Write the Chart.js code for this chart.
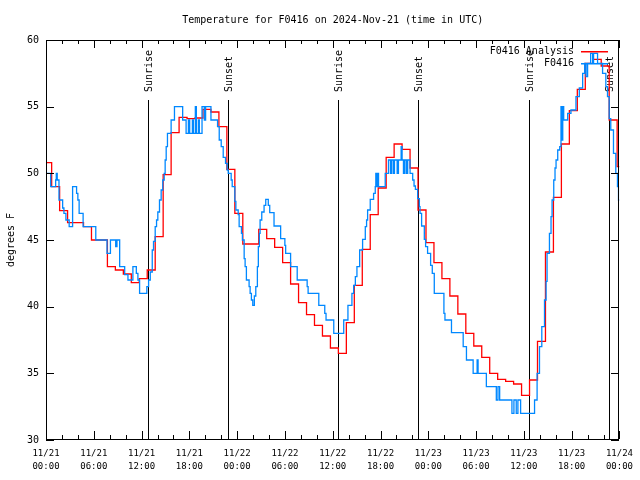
<!DOCTYPE html>
<html>
<head>
<meta charset="utf-8">
<script src="https://cdn.jsdelivr.net/npm/chart.js@4.4.1/dist/chart.umd.min.js"></script>
<style>
  html, body { margin: 0; padding: 0; background: #fff; }
</style>
</head>
<body>
<canvas id="render" width="640" height="480"></canvas>
<script>
// hours since 2024-11-21 00:00 UTC
const tickDates = ['11/21', '11/21', '11/21', '11/21', '11/22', '11/22', '11/22', '11/22', '11/23', '11/23', '11/23', '11/23', '11/24'];
const tickTimes = ['00:00', '06:00', '12:00', '18:00', '00:00', '06:00', '12:00', '18:00', '00:00', '06:00', '12:00', '18:00', '00:00'];

const sunHours = [12.79, 22.79, 36.66, 46.69, 60.66, 70.66];
const sunLabels = ['Sunrise', 'Sunset', 'Sunrise', 'Sunset', 'Sunrise', 'Sunset'];

// hourly analysis, each value starts at :43 past the hour (first one at 00:00)
const analysisTemps = [
  50.8, 49.0, 47.2, 46.3, 46.3, 46.0, 45.0, 45.0, 43.0, 42.75, 42.45, 41.8,
  42.1, 42.75, 45.25, 49.9, 53.05, 54.2, 54.1, 54.15, 54.8, 54.6, 53.5, 50.3,
  47.0, 44.7, 44.7, 45.8, 45.1, 44.45, 43.3, 41.7, 40.3, 39.4, 38.6, 37.8,
  36.9, 36.5, 38.8, 41.6, 44.3, 46.9, 48.9, 51.2, 52.2, 51.8, 50.4, 47.25,
  44.8, 43.3, 42.1, 40.8, 39.45, 38.0, 37.05, 36.2, 35.0, 34.55, 34.4, 34.2,
  33.35, 34.5, 37.4, 44.1, 48.2, 52.2, 54.7, 56.3, 58.25, 58.55, 58.05, 54.0,
  50.5
];
const analysisOffset = -0.29;

// observations, listed where the value changes
const obsHours = [
  0, 0.59, 1.21, 1.29, 1.41, 1.63, 2.09, 2.25, 2.5, 2.91, 3.34, 3.84, 4.0, 4.16, 4.66,
  6.25, 7.66, 8.09, 8.75, 8.91, 9.25, 9.88, 10.29, 10.91, 11.34, 11.54, 11.75,
  12.66, 12.88, 13.09, 13.34, 13.5, 13.71, 13.88, 14.04, 14.25, 14.46, 14.66, 14.84,
  14.96, 15.09, 15.25, 15.71, 16.13, 17.16, 17.59, 17.88, 18.04, 18.38, 18.5, 18.75,
  18.88, 19.13, 19.25, 19.59, 19.88, 20.04, 20.71, 21.54, 21.75, 22.0, 22.25, 22.54,
  22.75, 22.88, 23.25, 23.38, 23.71, 23.84, 24.13, 24.25, 24.54, 24.66, 24.88, 25.0,
  25.16, 25.5, 25.63, 25.79, 25.96, 26.16, 26.34, 26.54, 26.66, 26.79, 26.88, 27.09,
  27.38, 27.59, 27.91, 28.09, 28.63, 29.46, 29.99, 30.09, 30.71, 31.54, 32.79, 32.91,
  34.25, 35.0, 35.16, 36.13, 37.38, 37.91, 38.41, 38.63, 38.84, 39.04, 39.38, 39.75,
  40.09, 40.25, 40.38, 40.71, 41.13, 41.34, 41.41, 41.54, 41.63, 41.75, 42.59, 43.0,
  43.25, 43.41, 43.63, 43.75, 44.09, 44.25, 44.59, 44.71, 44.88, 45.04, 45.25, 45.41,
  45.71, 46.04, 46.21, 46.38, 46.66, 46.88, 46.96, 47.16, 47.5, 47.66, 47.91, 48.29,
  48.5, 48.75, 49.96, 50.09, 50.91, 52.38, 52.79, 53.63, 54.13, 54.25, 55.29, 56.54,
  56.75, 56.96, 58.5, 58.75, 59.04, 59.25, 59.59, 61.34, 61.66, 61.96, 62.25, 62.59,
  62.79, 62.91, 63.21, 63.41, 63.54, 63.75, 63.91, 64.04, 64.25, 64.5, 64.66, 64.75,
  64.88, 65.0, 65.5, 65.91, 66.54, 66.96, 67.38, 67.63, 67.81, 68.0, 68.38, 68.63,
  68.75, 69.25, 69.88, 70.29, 70.5, 70.71, 70.91, 71.25, 71.54, 71.75, 71.88, 72
];
const obsTemps = [
  50.0, 49.0, 49.5, 50.0, 49.5, 48.0, 47.4, 47.0, 46.5, 46.0, 49.0, 48.5, 48.0, 47.0, 46.0,
  45.0, 44.0, 45.0, 44.5, 45.0, 43.0, 42.4, 42.0, 43.0, 42.5, 42.0, 41.0,
  41.5, 42.0, 42.6, 44.25, 44.9, 46.0, 46.5, 47.1, 48.0, 48.75, 49.5, 50.0,
  51.0, 52.0, 53.0, 54.0, 55.0, 54.0, 53.0, 54.0, 53.0, 54.0, 53.0, 55.0,
  53.0, 54.0, 53.0, 55.0, 54.0, 55.0, 54.0, 53.5, 52.5, 52.0, 51.2, 50.75,
  50.25, 50.0, 49.5, 49.0, 47.9, 47.25, 46.9, 46.0, 45.5, 45.0, 43.6, 43.0,
  42.0, 41.5, 41.0, 40.5, 40.1, 40.8, 41.5, 43.0, 44.5, 45.5, 46.5, 47.1,
  47.6, 48.05, 47.6, 47.05, 46.05, 45.1, 44.6, 44.0, 43.0, 42.0, 41.5, 41.0,
  40.1, 39.5, 39.0, 38.0, 39.0, 40.1, 41.0, 41.6, 42.25, 43.0, 44.25, 45.05,
  46.0, 46.5, 47.25, 48.05, 48.5, 49.0, 50.0, 49.0, 50.0, 49.0, 50.0, 51.0,
  50.0, 51.0, 50.0, 51.0, 50.0, 51.0, 52.0, 51.0, 50.0, 51.0, 50.0, 51.0,
  50.0, 49.5, 49.05, 48.8, 48.1, 47.5, 47.0, 46.05, 45.05, 44.5, 44.0, 43.1,
  42.5, 41.0, 39.5, 39.0, 38.05, 37.0, 36.0, 35.0, 36.0, 35.0, 34.0, 33.0,
  34.0, 33.0, 32.0, 33.0, 32.0, 33.0, 32.0, 33.0, 35.0, 37.0, 38.5, 40.5,
  41.9, 44.0, 45.5, 46.75, 48.0, 49.5, 50.4, 51.0, 51.75, 52.0, 55.0, 52.5,
  55.0, 54.0, 54.5, 54.75, 55.75, 56.4, 57.5, 58.25, 57.25, 58.25, 59.0, 58.25,
  59.0, 58.25, 57.5, 56.5, 55.75, 54.1, 53.25, 51.5, 50.0, 49.0, 48.0, 48.0
];

const MONO = "'DejaVu Sans Mono', 'Liberation Mono', monospace";

const analysisPoints = analysisTemps.map((t, i) => ({x: i === 0 ? 0 : i + analysisOffset, y: t}));
analysisPoints.push({x: 72, y: analysisTemps[analysisTemps.length - 1]});
const obsPoints = obsHours.map((h, i) => ({x: h, y: obsTemps[i]}));

const gnuplotLook = {
  id: 'gnuplotLook',
  beforeDatasetsDraw(chart) {
    const ctx = chart.ctx;
    const area = chart.chartArea;
    const xs = chart.scales.x;
    const h = area.bottom - area.top;
    ctx.save();
    ctx.fillStyle = '#000';
    ctx.font = '10px ' + MONO;
    sunHours.forEach((hr, i) => {
      const x = Math.round(xs.getPixelForValue(hr));
      const top = Math.round(area.bottom - 0.85 * h);
      ctx.fillRect(x, top, 1, area.bottom - top);
      ctx.save();
      ctx.translate(x + 1.5, area.bottom - 0.87 * h);
      ctx.rotate(-Math.PI / 2);
      ctx.textAlign = 'left';
      ctx.textBaseline = 'middle';
      ctx.fillText(sunLabels[i], 0, 0);
      ctx.restore();
    });
    ctx.restore();
  },
  afterDraw(chart) {
    const ctx = chart.ctx;
    const area = chart.chartArea;
    const xs = chart.scales.x;
    const ys = chart.scales.y;
    ctx.save();
    ctx.fillStyle = '#000';
    const L = Math.round(area.left), R = Math.round(area.right) - 1;
    const T = Math.round(area.top), B = Math.round(area.bottom) - 1;
    // frame
    ctx.fillRect(L, T, R - L + 1, 1);
    ctx.fillRect(L, B, R - L + 1, 1);
    ctx.fillRect(L, T, 1, B - T + 1);
    ctx.fillRect(R, T, 1, B - T + 1);
    // inward ticks on all four sides
    xs.ticks.forEach(t => {
      const x = Math.round(xs.getPixelForValue(t.value));
      const len = t.value % 6 === 0 ? 8 : 4;
      ctx.fillRect(x, B - len, 1, len);
      ctx.fillRect(x, T, 1, len);
    });
    ys.ticks.forEach(t => {
      const y = Math.round(ys.getPixelForValue(t.value));
      ctx.fillRect(L, y, 8, 1);
      ctx.fillRect(R - 7, y, 8, 1);
    });

    // key, gnuplot style: text then line sample
    ctx.font = '10px ' + MONO;
    ctx.textAlign = 'right';
    ctx.textBaseline = 'middle';
    chart.data.datasets.forEach((ds, i) => {
      const y = 51 + i * 12;
      ctx.fillStyle = '#000';
      ctx.fillText(ds.label, 574, y + 0.5);
      ctx.fillStyle = ds.borderColor;
      ctx.fillRect(581, y, 27, 1.5);
    });
    ctx.restore();
  }
};

new Chart(document.getElementById('render'), {
  type: 'line',
  data: {
    datasets: [{
      label: 'F0416 Analysis',
      data: analysisPoints,
      borderColor: '#ff0000',
      borderWidth: 1.3,
      stepped: true,
      pointRadius: 0,
      fill: false,
      order: 2
    }, {
      label: 'F0416',
      data: obsPoints,
      borderColor: '#0088ff',
      borderWidth: 1.3,
      stepped: true,
      pointRadius: 0,
      fill: false,
      order: 1
    }]
  },
  options: {
    responsive: false,
    animation: false,
    layout: { padding: { left: 0, right: 18, top: 0, bottom: 0 } },
    plugins: {
      legend: { display: false },
      tooltip: { enabled: false },
      title: {
        display: true,
        fullSize: false,
        text: 'Temperature for F0416 on 2024-Nov-21 (time in UTC)',
        color: '#000',
        font: { family: MONO, size: 10, weight: 'normal', lineHeight: 1.2 },
        padding: { top: 14, bottom: 14 }
      }
    },
    scales: {
      x: {
        type: 'linear',
        min: 0,
        max: 72,
        grid: { display: false, drawTicks: false },
        border: { display: false },
        ticks: {
          stepSize: 2,
          autoSkip: false,
          maxRotation: 0,
          padding: 7,
          color: '#000',
          font: { family: MONO, size: 9, lineHeight: 1.45 },
          callback: v => v % 6 === 0 ? [tickDates[v / 6], tickTimes[v / 6]] : ''
        },
        afterFit: s => { s.height = 40; }
      },
      y: {
        min: 30,
        max: 60,
        grid: { display: false, drawTicks: false },
        border: { display: false },
        ticks: {
          stepSize: 5,
          padding: 7,
          color: '#000',
          font: { family: MONO, size: 10 }
        },
        title: {
          display: true,
          text: 'degrees F',
          color: '#000',
          font: { family: MONO, size: 10 },
          padding: { top: 5, bottom: 0 }
        },
        afterFit: s => { s.width = 46; }
      }
    }
  },
  plugins: [gnuplotLook]
});
</script>
</body>
</html>
